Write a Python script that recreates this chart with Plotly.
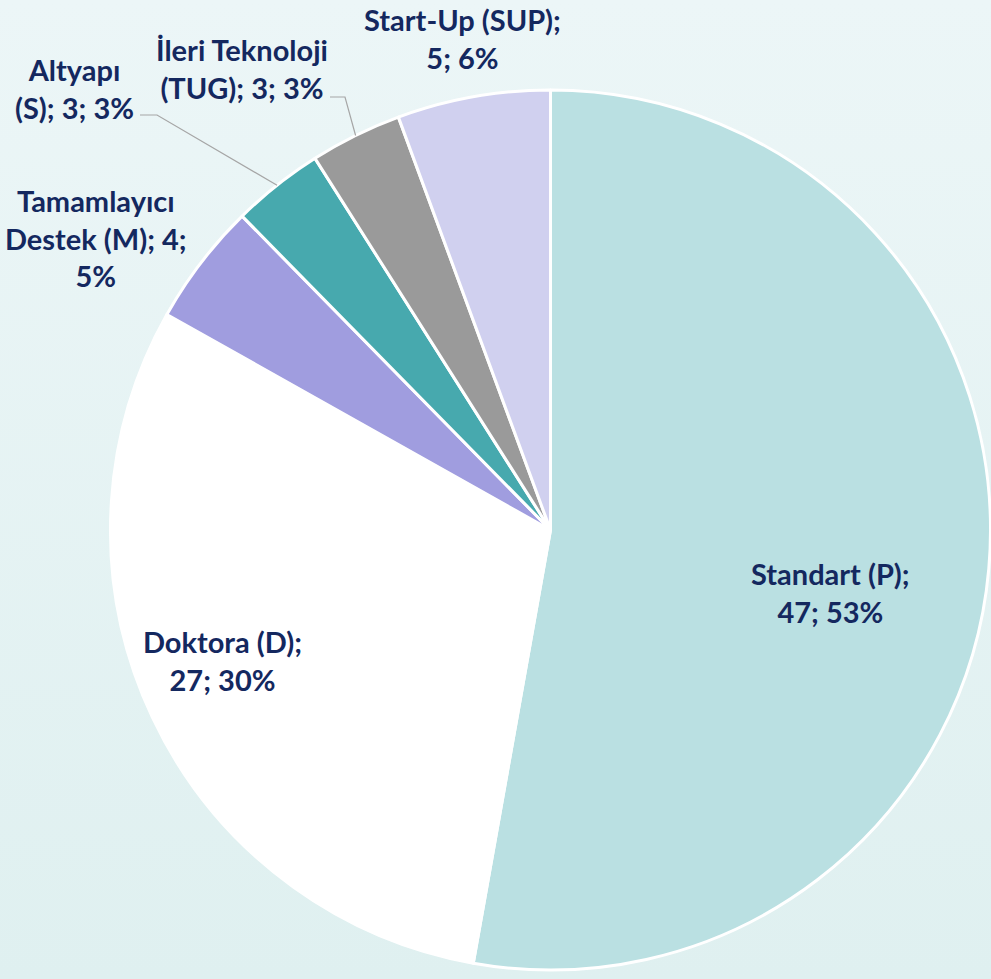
import base64, math
import plotly.graph_objects as go

W, H = 991, 979

labels = ["Standart (P)", "Doktora (D)", "Tamamlayıcı Destek (M)", "Altyapı (S)",
          "İleri Teknoloji (TUG)", "Start-Up (SUP)"]
values = [47, 27, 4, 3, 3, 5]
percents = ["53%", "30%", "5%", "3%", "3%", "6%"]
colors = ["#bae0e2", "#ffffff", "#a09ddf", "#47a9ae", "#9a9a9a", "#d0d0ef"]

# label text (line-broken as in the reference)
label_text = [
    "Standart (P);<br>47; 53%",
    "Doktora (D);<br>27; 30%",
    "Tamamlayıcı<br>Destek (M); 4;<br>5%",
    "Altyapı<br>(S); 3; 3%",
    "İleri Teknoloji<br>(TUG); 3; 3%",
    "Start-Up (SUP);<br>5; 6%",
]
# label centres in pixels (layout)
label_pos = [(830, 592), (222, 660), (96, 238), (74, 88), (242, 68), (462, 38)]
leader = {3: (140, 115, 157), 4: (330, 97, 345)}  # (x start, y, elbow x)

TEXT = "#14285f"
FONT = "Lato"
FS = 29

# pie geometry (pixels)
cx, cy, R = 550.5, 530.0, 440.0
dom_x = [(cx - R) / W, min(1.0, (cx + R) / W)]
dom_y = [(H - (cy + R)) / H, (H - (cy - R)) / H]

fig = go.Figure()
fig.add_trace(go.Pie(
    labels=labels, values=values, sort=False, direction="clockwise", rotation=0,
    marker=dict(colors=colors, line=dict(color="white", width=3)),
    textinfo="none",
    hoverinfo="label+value+percent",
    domain=dict(x=dom_x, y=dom_y),
    showlegend=False,
))

total = sum(values)
cum = 0
shapes = []
annotations = []
for i, v in enumerate(values):
    mid = (cum + v / 2) / total * 2 * math.pi
    cum += v
    tx, ty = label_pos[i]
    annotations.append(dict(
        x=tx / W, y=1 - ty / H, xref="paper", yref="paper",
        xanchor="center", yanchor="middle",
        text="<b>" + label_text[i] + "</b>", showarrow=False,
        font=dict(family=FONT, size=FS, color=TEXT), align="center",
    ))
    if i in leader:
        x0, y0, xe = leader[i]
        ex = cx + R * math.sin(mid)
        ey = cy - R * math.cos(mid)
        path = f"M {x0/W},{1-y0/H} L {xe/W},{1-y0/H} L {ex/W},{1-ey/H}"
        shapes.append(dict(type="path", xref="paper", yref="paper", path=path,
                           line=dict(color="#a6a6a6", width=1.2)))

svg = f'''<svg xmlns="http://www.w3.org/2000/svg" width="{W}" height="{H}" preserveAspectRatio="none">
<defs><linearGradient id="g" x1="0" y1="0" x2="0" y2="1">
<stop offset="0" stop-color="#ecf6f7"/><stop offset="1" stop-color="#dff0f0"/>
</linearGradient></defs><rect width="{W}" height="{H}" fill="url(#g)"/></svg>'''
src = "data:image/svg+xml;base64," + base64.b64encode(svg.encode()).decode()

fig.update_layout(
    width=W, height=H, margin=dict(l=0, r=0, t=0, b=0),
    paper_bgcolor="#e5f3f4", plot_bgcolor="#e5f3f4",
    images=[dict(source=src, xref="paper", yref="paper", x=0, y=1, sizex=1, sizey=1,
                 sizing="stretch", layer="below", xanchor="left", yanchor="top")],
    shapes=shapes, annotations=annotations,
    font=dict(family=FONT),
)
fig.write_html("out.html", config={"displayModeBar": False},
               post_script="document.body.style.margin='0';document.body.style.overflow='hidden';")
